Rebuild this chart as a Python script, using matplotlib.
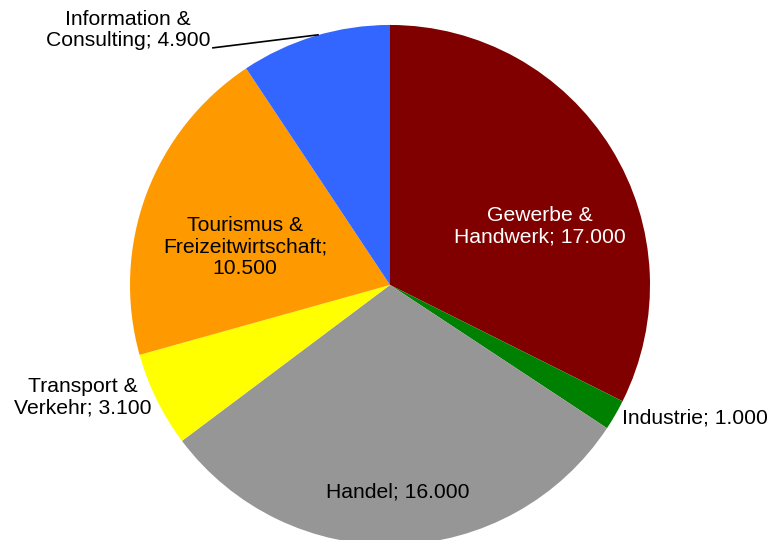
import matplotlib
matplotlib.use("Agg")
import matplotlib.pyplot as plt

plt.rcParams['font.family'] = ['Liberation Sans', 'DejaVu Sans']

# data
sectors = ["Gewerbe &\nHandwerk", "Industrie", "Handel", "Transport &\nVerkehr",
           "Tourismus &\nFreizeitwirtschaft;\n", "Information &\nConsulting"]
values = [17000, 1000, 16000, 3100, 10500, 4900]
colors = ["#800000", "#008000", "#969696", "#FFFF00", "#FF9900", "#3366FF"]

# label placement (pie radius units) and styles
label_pos = [(0.577, 0.227), (0.892, -0.512), (0.031, -0.796),
             (-1.181, -0.431), (-0.558, 0.146), (-1.008, 0.981)]
label_ha = ["center", "left", "center", "center", "center", "center"]
label_col = ["white", "black", "black", "black", "black", "black"]


def fmt(v):
    return "{:,}".format(v).replace(",", ".")


fig = plt.figure(figsize=(7.7, 5.4), dpi=100)
ax = fig.add_axes([0, 0, 1, 1])
ax.pie(values, colors=colors, startangle=90, counterclock=False, radius=1.0,
       wedgeprops=dict(linewidth=0))
ax.set_xlim(-1.5, 1.4615)
ax.set_ylim(-0.981, 1.096)
ax.set_aspect("auto")
ax.axis("off")

for name, v, (x, y), ha, c in zip(sectors, values, label_pos, label_ha, label_col):
    if name.endswith("\n"):
        txt = name + fmt(v)
    else:
        txt = name + "; " + fmt(v)
    ax.text(x, y, txt, ha=ha, va="center", color=c, fontsize=15.2,
            linespacing=1.15, multialignment="center")

# leader line for the small outside label
ax.plot([-0.681, -0.277], [0.912, 0.962], color="black", lw=1.2)

fig.savefig("out.png", dpi=100)
